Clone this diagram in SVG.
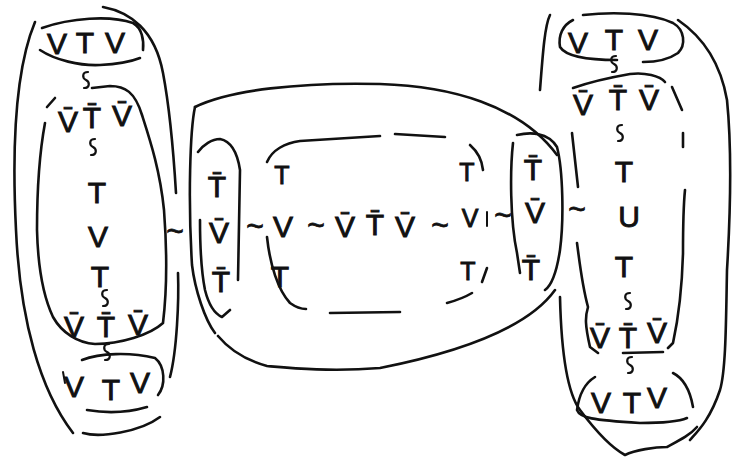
<svg xmlns="http://www.w3.org/2000/svg" xmlns:xlink="http://www.w3.org/1999/xlink" width="733" height="459" viewBox="0 0 733 459">
<style>
.ln{fill:none;stroke:#111;stroke-width:2.6;stroke-linecap:round;stroke-linejoin:round}
.t{font-family:"Liberation Sans",Arial,sans-serif;font-size:30px;fill:#111;stroke:#111;stroke-width:0.9;text-anchor:middle}
.s{font-size:25px}
.td{font-family:"Liberation Sans",Arial,sans-serif;font-size:30px;fill:#111;stroke:#111;stroke-width:0.8;text-anchor:middle}
</style>
<defs>
<path id="vs" class="ln" d="M2 -8 C -4 -8, -4 -2, 0 0 C 4 2, 4 8, -2 8" style="stroke-width:2.2"/>
</defs>
<rect width="733" height="459" fill="#fff"/>

<g id="left-column">
<path class="ln" d="M35 22 C15 70, 12 150, 16 230 C20 320, 40 390, 73 433"/>
<path class="ln" d="M83 433 C100 438, 140 432, 160 417"/>
<path class="ln" d="M103 7 C130 12, 155 30, 163 73 C170 110, 174 160, 176 193"/>
<path class="ln" d="M178 273 C179 300, 177 350, 170 377"/>
<g id="left-top">
<path class="ln" d="M42 28 C70 18, 110 15, 133 23 C142 28, 144 40, 143 50"/>
<path class="ln" d="M40 50 C55 60, 80 66, 100 65 C120 64, 135 60, 140 58"/>
<text class="t" x="57" y="54">V</text><text class="t" x="85" y="53">T</text><text class="t" x="115" y="53">V</text>
</g>
<g id="left-chain">
<path class="ln" d="M47 107 L55 98"/>
<path class="ln" d="M92 88 L110 86 C125 86, 135 92, 142 115 C150 140, 160 170, 164 210 C167 250, 167 290, 163 323 C150 335, 120 344, 95 344 C78 343, 62 333, 53 317 C45 300, 38 270, 37 230 C37 190, 40 150, 45 123"/>
<text class="t" x="68" y="132">V̄</text><text class="t" x="92" y="128">T̄</text><text class="t" x="122" y="126">V̄</text>
<text class="t" x="97" y="203">T</text>
<text class="t" x="98" y="247">V</text>
<text class="t" x="100" y="287">T</text>
<text class="t" x="74" y="337">V̄</text><text class="t" x="106" y="337">T̄</text><text class="t" x="138" y="335">V̄</text>
</g>
<g id="left-bottom">
<path class="ln" d="M82 360 C100 353, 130 352, 155 358 C165 366, 166 385, 158 395"/>
<path class="ln" d="M87 410 C110 414, 130 412, 147 407"/>
<path class="ln" d="M63 372 L65 383" style="stroke-width:2"/>
<text class="t" x="74" y="397">V</text><text class="t" x="111" y="400">T</text><text class="t" x="140" y="393">V</text>
</g>
</g>

<g id="middle">
<path class="ln" d="M195 107 C230 90, 300 82, 380 84 C450 86, 520 105, 557 155"/>
<path class="ln" d="M195 107 C190 130, 188 200, 192 265 C195 290, 205 320, 215 333"/>
<path class="ln" d="M555 290 C530 325, 470 350, 380 368 C330 372, 290 368, 267 366 C245 360, 228 348, 218 336"/>
<g id="mid-left-oval">
<path class="ln" d="M198 152 C203 145, 212 139, 220 139 C230 141, 237 150, 240 170 L238 280"/>
<path class="ln" d="M200 220 C200 250, 202 275, 205 290 C208 302, 213 313, 222 317 L230 310"/>
<text class="t" x="217" y="197">T̄</text>
<text class="t" x="219" y="243">V̄</text>
<text class="t" x="221" y="292">T̄</text>
</g>
<g id="mid-inner">
<path class="ln" d="M267 162 C272 150, 285 143, 300 141 L380 136"/>
<path class="ln" d="M395 134 L445 137"/>
<path class="ln" d="M470 145 C478 152, 482 160, 483 170"/>
<path class="ln" d="M267 237 C270 265, 278 290, 290 303 C297 308, 303 309, 306 309"/>
<path class="ln" d="M330 313 L400 312"/>
<path class="ln" d="M447 303 C458 300, 467 296, 472 293"/>
<path class="ln" d="M482 282 L487 268"/>
<path class="ln" d="M487 212 L487 226" style="stroke-width:2"/>
<text class="t s" x="282" y="184">T</text>
<text class="t" x="283" y="237">V</text>
<text class="t" x="280" y="287">T</text>
<text class="t" x="345" y="237">V̄</text><text class="t" x="375" y="235">T̄</text><text class="t" x="405" y="237">V̄</text>
<text class="t s" x="467" y="181">T</text>
<text class="t s" x="470" y="227">V</text>
<text class="t s" x="468" y="280">T</text>
</g>
<g id="mid-right-oval">
<path class="ln" d="M517 135 C530 132, 548 132, 557 147 C563 170, 564 220, 560 250 C557 270, 552 285, 545 290"/>
<path class="ln" d="M513 143 C510 170, 510 220, 517 253 L520 273"/>
<text class="t" x="533" y="180">T̄</text>
<text class="t" x="535" y="223">V̄</text>
<text class="t" x="531" y="280">T̄</text>
</g>
</g>

<g id="right-column">
<path class="ln" d="M550 15 C545 25, 543 50, 540 90"/>
<path class="ln" d="M678 20 C700 35, 720 60, 727 100 C732 150, 730 220, 727 270 C726 320, 726 370, 720 390 C710 420, 697 432, 690 440"/>
<path class="ln" d="M560 297 C561 340, 565 390, 580 410 C595 430, 612 448, 625 455 C635 450, 655 447, 667 447 C680 440, 690 435, 697 427"/>
<g id="right-top">
<path class="ln" d="M583 15 C610 12, 650 12, 673 23 C685 30, 686 45, 678 53 C668 60, 655 62, 643 62"/>
<path class="ln" d="M573 20 C563 25, 558 35, 560 47 C565 55, 580 60, 617 60"/>
<text class="t" x="578" y="53">V</text><text class="t" x="614" y="50">T</text><text class="t" x="648" y="50">V</text>
</g>
<g id="right-chain">
<path class="ln" d="M573 88 C590 82, 607 78, 630 74 C645 72, 660 76, 665 82"/>
<path class="ln" d="M672 87 L682 110"/>
<path class="ln" d="M683 133 L683 147"/>
<path class="ln" d="M685 190 C684 200, 683 215, 683 253 C682 290, 678 320, 673 343 L668 348"/>
<path class="ln" d="M572 133 L578 187"/>
<path class="ln" d="M577 243 C580 265, 582 285, 588 307 C585 317, 585 325, 590 347 L598 353"/>
<path class="ln" d="M623 353 L663 352"/>
<text class="t" x="583" y="115">V̄</text><text class="t" x="618" y="110">T̄</text><text class="t" x="649" y="110">V̄</text>
<text class="t" x="624" y="182">T</text>
<text class="t" x="629" y="227">U</text>
<text class="t" x="624" y="277">T</text>
<text class="t" x="600" y="348">V̄</text><text class="t" x="628" y="348">T̄</text><text class="t" x="657" y="343">V̄</text>
</g>
<g id="right-bottom">
<path class="ln" d="M595 377 C585 383, 579 395, 577 410 C580 418, 592 420, 640 423 C660 423, 680 421, 687 418"/>
<path class="ln" d="M673 373 C683 378, 690 390, 693 407"/>
<text class="t" x="601" y="413">V</text><text class="t" x="632" y="413">T</text><text class="t" x="657" y="408">V</text>
</g>
</g>

<g id="connectors">
<use href="#vs" x="86" y="80"/>
<use href="#vs" x="93" y="147"/>
<use href="#vs" x="105" y="298"/>
<use href="#vs" x="107" y="352"/>
<use href="#vs" x="614" y="64"/>
<use href="#vs" x="620" y="133"/>
<use href="#vs" x="628" y="301"/>
<use href="#vs" x="630" y="365"/>
<text class="td" x="175" y="241">~</text>
<text class="td" x="255" y="236">~</text>
<text class="td" x="316" y="235">~</text>
<text class="td" x="440" y="235">~</text>
<text class="td" x="503" y="225">~</text>
<text class="td" x="577" y="219">~</text>
</g>
</svg>
